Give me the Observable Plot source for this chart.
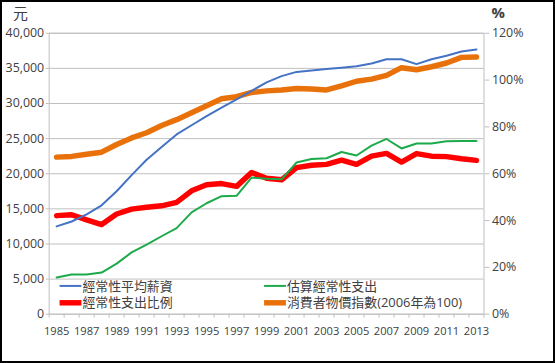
<!DOCTYPE html>
<html>
<head>
<meta charset="utf-8">
<script src="https://cdn.jsdelivr.net/npm/d3@7"></script>
<script src="https://cdn.jsdelivr.net/npm/@observablehq/plot@0.6"></script>
<style>
  html, body { margin: 0; padding: 0; background: #fff; }
  #chart { width: 555px; height: 363px; box-sizing: border-box; border: 2px solid #000; position: relative; overflow: hidden; }
  #chart svg { position: absolute; left: -2px; top: -2px; }
</style>
</head>
<body>
<div id="chart"></div>
<script>
const years = [1985,1986,1987,1988,1989,1990,1991,1992,1993,1994,1995,1996,1997,1998,1999,2000,2001,2002,2003,2004,2005,2006,2007,2008,2009,2010,2011,2012,2013];
// 經常性平均薪資 (元, left axis)
const wage = [12500,13200,14200,15500,17500,19800,22000,23800,25600,26900,28200,29400,30600,31800,33000,33900,34500,34700,34900,35100,35300,35700,36300,36300,35600,36300,36800,37400,37700];
// 估算經常性支出 (元, left axis)
const spend = [5230,5650,5650,5930,7200,8800,9900,11100,12250,14500,15800,16800,16850,19450,19300,19200,21600,22100,22200,23100,22600,24000,24950,23600,24300,24300,24630,24650,24650];
// 經常性支出比例 (%, right axis)
const ratio = [42.1,42.5,40.3,38.3,42.8,44.9,45.7,46.3,47.8,52.7,55.3,55.8,54.6,60.5,58.1,57.4,62.6,63.6,64.0,65.8,64.0,67.5,68.7,65.0,68.6,67.5,67.3,66.4,65.7];
// 消費者物價指數 (2006年為100, right axis)
const cpi = [67.1,67.4,68.3,69.2,72.5,75.3,77.5,80.6,83.1,86.0,89.0,92.0,92.9,94.7,95.4,95.8,96.4,96.2,95.8,97.5,99.5,100.4,102.0,105.3,104.4,105.7,107.3,109.7,109.9];

const leftTicks = [0,5000,10000,15000,20000,25000,30000,35000,40000];
const rightTicks = [0,20,40,60,80,100,120];
const xLabelYears = [1985,1987,1989,1991,1993,1995,1997,1999,2001,2003,2005,2007,2009,2011,2013];
const seriesNames = ["經常性平均薪資","估算經常性支出","經常性支出比例","消費者物價指數(2006年為100)"];
const seriesColors = ["#4472C4","#1DAA4A","#FF0000","#E8710A"];
const seriesWidths = [2,2,5.5,5.5];

const leftMax = 40000, rightMax = 120;
const toLeft = p => p * leftMax / rightMax;

const rows = (vals, conv) => years.map((y, i) => ({year: y, v: conv ? conv(vals[i]) : vals[i]}));
const boundaries = [...years.map(y => y - 0.5), years[years.length - 1] + 0.5];

const font = "'Open Sans', 'Noto Sans CJK TC', sans-serif";

const plot = Plot.plot({
  width: 555,
  height: 363,
  marginLeft: 49,
  marginRight: 68,
  marginTop: 33,
  marginBottom: 47,
  style: {fontFamily: font, fontSize: "12px", color: "#404040", background: "transparent"},
  x: {domain: [years[0] - 0.5, years[years.length - 1] + 0.5]},
  y: {domain: [0, leftMax]},
  marks: [
    Plot.gridY(leftTicks, {stroke: "#BFBFBF", strokeOpacity: 1, strokeWidth: 1}),
    Plot.frame({stroke: "#BFBFBF", strokeWidth: 1}),
    Plot.axisY(leftTicks, {anchor: "left", tickSize: 3, tickPadding: 2, stroke: "#BFBFBF", tickFormat: d3.format(","), fontSize: 12.5, fill: "#404040", label: null}),
    Plot.axisY(rightTicks.map(toLeft), {anchor: "right", tickSize: 5, tickPadding: 3, stroke: "#BFBFBF", tickFormat: d => Math.round(d * rightMax / leftMax) + "%", fontSize: 12.5, fill: "#404040", label: null}),
    Plot.axisX(boundaries, {anchor: "bottom", tickSize: 4, stroke: "#BFBFBF", tickFormat: () => "", label: null}),
    Plot.axisX(xLabelYears, {anchor: "bottom", tickSize: 0, tickPadding: 13, tickFormat: d => String(d), fontSize: 11.2, fill: "#404040", label: null}),
    Plot.line(rows(ratio, toLeft), {x: "year", y: "v", stroke: seriesColors[2], strokeWidth: seriesWidths[2], strokeLinejoin: "round"}),
    Plot.line(rows(cpi, toLeft), {x: "year", y: "v", stroke: seriesColors[3], strokeWidth: seriesWidths[3], strokeLinejoin: "round"}),
    Plot.line(rows(wage), {x: "year", y: "v", stroke: seriesColors[0], strokeWidth: seriesWidths[0]}),
    Plot.line(rows(spend), {x: "year", y: "v", stroke: seriesColors[1], strokeWidth: seriesWidths[1]})
  ]
});

document.getElementById("chart").appendChild(plot);

// unit labels and legend
const svg = d3.select(plot);
svg.append("text").attr("x", 13).attr("y", 19).attr("text-anchor", "start").attr("font-size", 15).attr("fill", "#404040")
  .attr("font-family", font).text("元");
svg.append("text").attr("x", 495).attr("y", 18).attr("text-anchor", "start").attr("font-size", 15).attr("font-weight", "bold").attr("fill", "#404040")
  .attr("font-family", font).text("%");

const legendPos = [[60, 288], [266, 288], [60, 305], [266, 305]];
[0, 1, 2, 3].forEach((s, i) => {
  const [lx, ly] = legendPos[i];
  const g = svg.append("g");
  g.append("line").attr("x1", lx).attr("x2", lx + 22).attr("y1", ly).attr("y2", ly)
    .attr("stroke", seriesColors[s]).attr("stroke-width", seriesWidths[s]);
  g.append("text").attr("x", lx + 23).attr("y", ly).attr("dy", "0.36em").attr("text-anchor", "start").attr("font-size", 13)
    .attr("fill", "#404040").attr("font-family", font).text(seriesNames[s]);
});
</script>
</body>
</html>
